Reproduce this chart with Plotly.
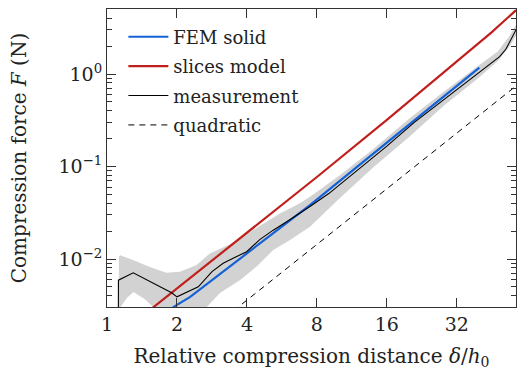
import plotly.graph_objects as go

# Relative compression distance (delta / h0) and force values (N)
fem_delta = [1.92, 2.28, 4.0, 7.47, 16.0, 40.0]
fem_force = [0.0030, 0.0039, 0.0115, 0.0383, 0.181, 1.17]

slices_delta = [1.5, 2.0, 4.0, 8.0, 16.0, 32.0, 45.0, 57.5]
slices_force = [0.0027, 0.0048, 0.019, 0.077, 0.32, 1.35, 2.8, 4.9]

meas_delta = [1.118, 1.12, 1.297, 1.897, 2.0, 2.47, 2.83, 3.16, 3.49, 3.99, 4.54,
              5.19, 5.93, 6.76, 7.47, 9.0, 12.0, 16.0, 21.0, 28.0, 34.0, 39.8,
              44.0, 48.9, 52.0, 55.0, 57.5]
meas_force = [0.001, 0.0059, 0.0071, 0.00432, 0.0039, 0.0050, 0.0073, 0.0090, 0.0102,
              0.0120, 0.0162, 0.0205, 0.0253, 0.0313, 0.0370, 0.051, 0.092, 0.166,
              0.30, 0.52, 0.76, 1.04, 1.26, 1.54, 1.85, 2.4, 3.0]

# Spread of the measurements (upper and lower envelope)
band_hi_delta = [1.125, 1.14, 1.3, 1.53, 1.80, 2.06, 2.43, 2.77, 3.38, 4.12, 4.86,
                 5.55, 6.76, 7.47, 10.0, 14.0, 20.0, 28.0, 40.0, 48.0, 54.0, 57.5]
band_hi_force = [0.0106, 0.011, 0.0097, 0.0082, 0.0071, 0.0073, 0.0086, 0.0115, 0.0144,
                 0.0197, 0.0253, 0.031, 0.040, 0.047, 0.080, 0.155, 0.33, 0.64, 1.25,
                 1.75, 2.6, 3.4]
band_lo_delta = [1.125, 1.14, 1.22, 1.30, 1.45, 1.61, 1.8, 2.3, 2.68, 3.06, 3.73, 4.4,
                 5.19, 6.13, 7.47, 10.0, 14.0, 20.0, 28.0, 40.0, 48.0, 54.0, 57.5]
band_lo_force = [0.001, 0.003, 0.0038, 0.0044, 0.0037, 0.0029, 0.0015, 0.0015, 0.003,
                 0.0043, 0.0059, 0.0083, 0.0125, 0.016, 0.0223, 0.045, 0.098, 0.21,
                 0.45, 0.92, 1.38, 2.0, 2.6]

quad_delta = [3.5, 60.0]
quad_force = [0.00275, 0.808]

x_ticks = [1, 2, 4, 8, 16, 32]
x_ticktext = ["1", "2", "4", "8", "16", "32"]
y_ticks = [0.01, 0.1, 1.0]
y_ticktext = ["10<sup>\u22122</sup>", "10<sup>\u22121</sup>", "10<sup>0</sup>"]
y_minor = [0.003, 0.004, 0.005, 0.006, 0.007, 0.008, 0.009,
           0.02, 0.03, 0.04, 0.05, 0.06, 0.07, 0.08, 0.09,
           0.2, 0.3, 0.4, 0.5, 0.6, 0.7, 0.8, 0.9, 2, 3, 4, 5]

FONT = "DejaVu Serif, serif"
AX = "#333333"

fig = go.Figure()

fig.add_trace(go.Scatter(
    x=band_hi_delta + band_lo_delta[::-1],
    y=band_hi_force + band_lo_force[::-1],
    fill="toself", fillcolor="#d2d2d2", line=dict(width=0),
    mode="lines", showlegend=False, hoverinfo="skip"))

fig.add_trace(go.Scatter(x=quad_delta, y=quad_force, mode="lines", name="quadratic",
                         legendgroup="d", legendrank=4,
                         line=dict(color="black", width=1, dash="6px,5px")))
fig.add_trace(go.Scatter(x=slices_delta, y=slices_force, mode="lines", name="slices model",
                         legendgroup="b", legendrank=2,
                         line=dict(color="#c0201c", width=2.2)))
fig.add_trace(go.Scatter(x=fem_delta, y=fem_force, mode="lines", name="FEM solid",
                         legendgroup="a", legendrank=1,
                         line=dict(color="#1462d6", width=2.2)))
fig.add_trace(go.Scatter(x=meas_delta, y=meas_force, mode="lines", name="measurement",
                         legendgroup="c", legendrank=3,
                         line=dict(color="black", width=1.1)))

fig.update_layout(
    width=517, height=370,
    margin=dict(l=107, r=1, t=9, b=63),
    paper_bgcolor="white", plot_bgcolor="white",
    font=dict(family=FONT, size=18, color="#222"),
    legend=dict(x=0.040, y=0.968, xanchor="left", yanchor="top",
                bgcolor="rgba(255,255,255,0)", font=dict(size=18),
                itemwidth=40, tracegroupgap=3),
)

fig.update_xaxes(
    type="log", range=[0, 1.7597],
    tickvals=x_ticks, ticktext=x_ticktext, tickfont=dict(size=19),
    ticks="inside", ticklen=9, tickcolor=AX, tickwidth=1,
    showline=True, linecolor=AX, linewidth=1, mirror="allticks",
    showgrid=False, zeroline=False,
    title=dict(text="Relative compression distance <i>\u03b4</i>/<i>h</i><sub>0</sub>",
               standoff=16, font=dict(size=20)),
)
fig.update_yaxes(
    type="log", range=[-2.519, 0.703],
    tickvals=y_ticks, ticktext=y_ticktext, tickfont=dict(size=19),
    ticks="inside", ticklen=9, tickcolor=AX, tickwidth=1,
    minor=dict(tickvals=y_minor, ticks="inside", ticklen=5, tickcolor=AX, showgrid=False),
    showline=True, linecolor=AX, linewidth=1, mirror="allticks",
    showgrid=False, zeroline=False,
    title=dict(text="Compression force <i>F</i> (N)", standoff=26, font=dict(size=20)),
)

fig.write_html("out.html")
